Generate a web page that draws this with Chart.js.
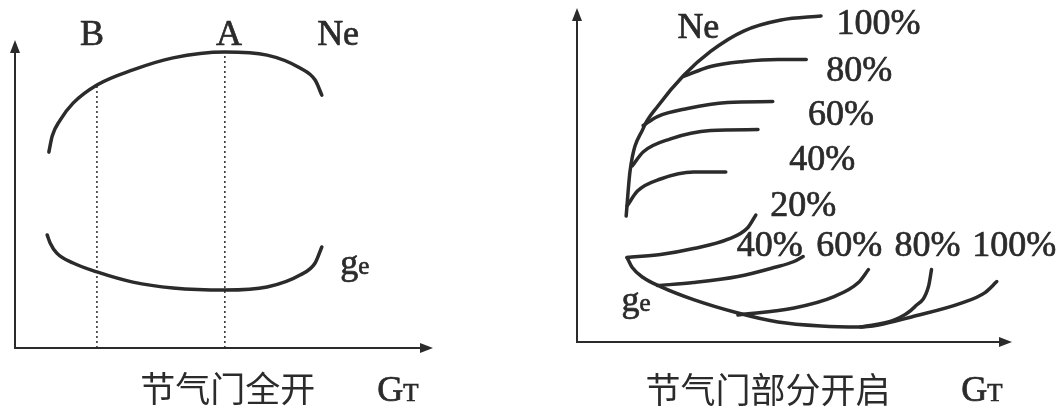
<!DOCTYPE html>
<html>
<head>
<meta charset="utf-8">
<script src="https://cdn.jsdelivr.net/npm/chart.js@4/dist/chart.umd.min.js"></script>
<style>
  html, body { margin: 0; padding: 0; background: #fff; }
  #wrap { position: relative; width: 1062px; height: 412px; }
  canvas { position: absolute; top: 0; }
  #full { left: 0; }
  #part { left: 531px; }
</style>
</head>
<body>
<div id="wrap">
  <canvas id="full" width="531" height="412"></canvas>
  <canvas id="part" width="531" height="412"></canvas>
</div>
<script>
// throttle fully open: power Ne and specific consumption ge against GT
var fullNe = [
  {x: 8.1, y: 63.6}, {x: 8.9, y: 68.8}, {x: 10.8, y: 74.0}, {x: 13.9, y: 79.5},
  {x: 19.6, y: 85.4}, {x: 28.2, y: 90.3}, {x: 37.8, y: 94.2}, {x: 50.2, y: 96.1},
  {x: 60.3, y: 95.1}, {x: 68.2, y: 90.9}, {x: 71.8, y: 87.0}, {x: 73.4, y: 82.1}
];
var fullGe = [
  {x: 7.7, y: 36.7}, {x: 8.4, y: 34.1}, {x: 10.0, y: 30.8}, {x: 13.9, y: 27.6},
  {x: 19.6, y: 24.7}, {x: 28.2, y: 21.4}, {x: 37.8, y: 19.5}, {x: 50.2, y: 18.8},
  {x: 60.3, y: 19.8}, {x: 68.2, y: 23.7}, {x: 71.8, y: 27.6}, {x: 73.4, y: 32.8}
];
var pointB = 19.6, pointA = 50.2;

// partial throttle: Ne and ge curves per opening
var openings = ['100%', '80%', '60%', '40%', '20%'];
var partNe = [
  [{x: 11.3, y: 37.7}, {x: 12.2, y: 51.2}, {x: 15.2, y: 63.9}, {x: 18.7, y: 70.8},
   {x: 24.5, y: 79.8}, {x: 30.7, y: 87.0}, {x: 38.3, y: 93.1}, {x: 46.9, y: 96.4},
   {x: 56.1, y: 97.6}],
  [{x: 24.5, y: 79.5}, {x: 30.7, y: 82.5}, {x: 38.3, y: 84.0}, {x: 46.2, y: 84.6}, {x: 52.7, y: 84.6}],
  [{x: 15.2, y: 64.8}, {x: 18.5, y: 67.5}, {x: 25.4, y: 69.9}, {x: 34.6, y: 71.7}, {x: 45.0, y: 72.0}],
  [{x: 12.7, y: 52.7}, {x: 15.2, y: 56.9}, {x: 21.5, y: 60.8}, {x: 30.7, y: 63.3}, {x: 41.6, y: 63.6}],
  [{x: 11.5, y: 40.7}, {x: 13.9, y: 45.2}, {x: 19.2, y: 48.8}, {x: 26.8, y: 50.9}, {x: 34.2, y: 50.9}]
];
var partGe = [
  [{x: 11.5, y: 25.3}, {x: 12.7, y: 22.3}, {x: 15.2, y: 19.3}, {x: 19.2, y: 16.6},
   {x: 26.8, y: 12.7}, {x: 37.0, y: 8.7}, {x: 46.2, y: 6.0}, {x: 56.1, y: 4.8},
   {x: 64.7, y: 4.5}, {x: 69.3, y: 5.1}, {x: 76.9, y: 7.5}, {x: 88.5, y: 11.7},
   {x: 93.8, y: 14.8}, {x: 96.5, y: 18.1}],
  [{x: 65.2, y: 4.5}, {x: 73.0, y: 6.6}, {x: 77.6, y: 10.5}, {x: 80.8, y: 16.6}, {x: 81.5, y: 21.7}],
  [{x: 37.0, y: 8.1}, {x: 49.9, y: 10.2}, {x: 59.1, y: 13.6}, {x: 64.7, y: 17.8}, {x: 67.0, y: 21.7}],
  [{x: 18.5, y: 16.9}, {x: 26.8, y: 17.8}, {x: 37.0, y: 19.6}, {x: 45.3, y: 22.3}, {x: 49.9, y: 24.1}, {x: 52.0, y: 25.6}],
  [{x: 11.5, y: 25.3}, {x: 19.2, y: 26.2}, {x: 26.8, y: 28.0}, {x: 34.6, y: 30.7}, {x: 39.3, y: 34.3}, {x: 41.1, y: 38.0}]
];

// text annotations in data units
var fullNotes = [
  {t: 'B', x: 18.4, y: 101.3}, {t: 'A', x: 51.2, y: 101.3}, {t: 'Ne', x: 77.3, y: 101.6},
  {t: 'ge', x: 81.3, y: 27.9, sub: true},
  {t: '节气门全开', x: 50.9, y: -13.3, cjk: true}, {t: 'GT', x: 91.6, y: -13.3, sub: true}
];
var partNotes = [
  {t: 'Ne', x: 27.9, y: 93.7},
  {t: '100%', x: 69.3, y: 94.9}, {t: '80%', x: 64.9, y: 81.0}, {t: '60%', x: 60.7, y: 67.8},
  {t: '40%', x: 56.4, y: 54.2}, {t: '20%', x: 52.0, y: 40.7},
  {t: '40%', x: 44.3, y: 28.6}, {t: '60%', x: 62.6, y: 28.6}, {t: '80%', x: 80.6, y: 28.6},
  {t: '100%', x: 100.5, y: 28.6},
  {t: 'ge', x: 13.6, y: 13.0, sub: true},
  {t: '节气门部分开启', x: 43.9, y: -14.2, cjk: true}, {t: 'GT', x: 93.1, y: -14.2, sub: true}
];

var ink = '#2b2b2b';
var serif = '"Liberation Serif", "DejaVu Serif", serif';

function curve(pts) {
  return {
    data: pts, borderColor: ink, borderWidth: 3.5, pointRadius: 0,
    cubicInterpolationMode: 'monotone', fill: false, clip: false,
    borderCapStyle: 'round'
  };
}
function dotted(x, top) {
  return {
    data: [{x: x, y: 0}, {x: x, y: top}], borderColor: ink, borderWidth: 1.5,
    borderDash: [2, 3], pointRadius: 0, tension: 0, clip: false
  };
}

// arrowed axes plus text
var sketchAxes = {
  id: 'sketchAxes',
  beforeDatasetsDraw: function (chart) {
    var a = chart.chartArea, c = chart.ctx;
    c.save();
    c.strokeStyle = ink; c.fillStyle = ink; c.lineWidth = 2;
    c.beginPath();
    c.moveTo(a.left, a.top + 4); c.lineTo(a.left, a.bottom); c.lineTo(a.right - 4, a.bottom);
    c.stroke();
    c.beginPath();
    c.moveTo(a.left, a.top); c.lineTo(a.left - 5, a.top + 13); c.lineTo(a.left + 5, a.top + 13);
    c.closePath(); c.fill();
    c.beginPath();
    c.moveTo(a.right, a.bottom); c.lineTo(a.right - 13, a.bottom - 5); c.lineTo(a.right - 13, a.bottom + 5);
    c.closePath(); c.fill();
    c.restore();
  },
  afterDraw: function (chart, args, opts) {
    var c = chart.ctx, sx = chart.scales.x, sy = chart.scales.y;
    c.save();
    c.fillStyle = ink; c.strokeStyle = ink; c.lineWidth = 0.7;
    function put(s, x, y) { c.fillText(s, x, y); c.strokeText(s, x, y); }
    opts.notes.forEach(function (n) {
      var px = sx.getPixelForValue(n.x), py = sy.getPixelForValue(n.y);
      if (n.cjk) {
        c.font = '35px "Noto Sans CJK SC"';
        c.textAlign = 'center';
        c.textBaseline = 'middle';
        c.fillText(n.t, px, py);
      } else if (n.sub) {
        // second letter set smaller, as in GT and ge
        var big = '36px ' + serif, small = '25px ' + serif;
        c.font = big; var w1 = c.measureText(n.t[0]).width;
        c.font = small; var w2 = c.measureText(n.t[1]).width;
        var x0 = px - (w1 + w2) / 2;
        c.textAlign = 'left';
        c.textBaseline = 'alphabetic';
        c.font = big; put(n.t[0], x0, py + 12);
        c.font = small; put(n.t[1], x0 + w1, py + 12);
      } else {
        c.font = '36px ' + serif;
        c.textAlign = 'center';
        c.textBaseline = 'middle';
        put(n.t, px, py);
      }
    });
    c.restore();
  }
};

function baseOptions(pad, notes) {
  return {
    responsive: false, animation: false,
    layout: {padding: pad},
    scales: {
      x: {type: 'linear', min: 0, max: 100, display: false},
      y: {type: 'linear', min: 0, max: 100, display: false}
    },
    plugins: {legend: {display: false}, tooltip: {enabled: false}, sketchAxes: {notes: notes}}
  };
}

new Chart(document.getElementById('full'), {
  type: 'line',
  data: {datasets: [curve(fullNe), curve(fullGe), dotted(pointB, 85.4), dotted(pointA, 96.1)]},
  options: baseOptions({left: 15, top: 40, right: 98, bottom: 64}, fullNotes),
  plugins: [sketchAxes]
});

var partSets = [];
openings.forEach(function (o, i) {
  partSets.push(Object.assign(curve(partNe[i]), {label: 'Ne ' + o}));
  partSets.push(Object.assign(curve(partGe[i]), {label: 'ge ' + o}));
});
new Chart(document.getElementById('part'), {
  type: 'line',
  data: {datasets: partSets},
  options: baseOptions({left: 46, top: 8, right: 50, bottom: 70}, partNotes),
  plugins: [sketchAxes]
});
</script>
</body>
</html>
